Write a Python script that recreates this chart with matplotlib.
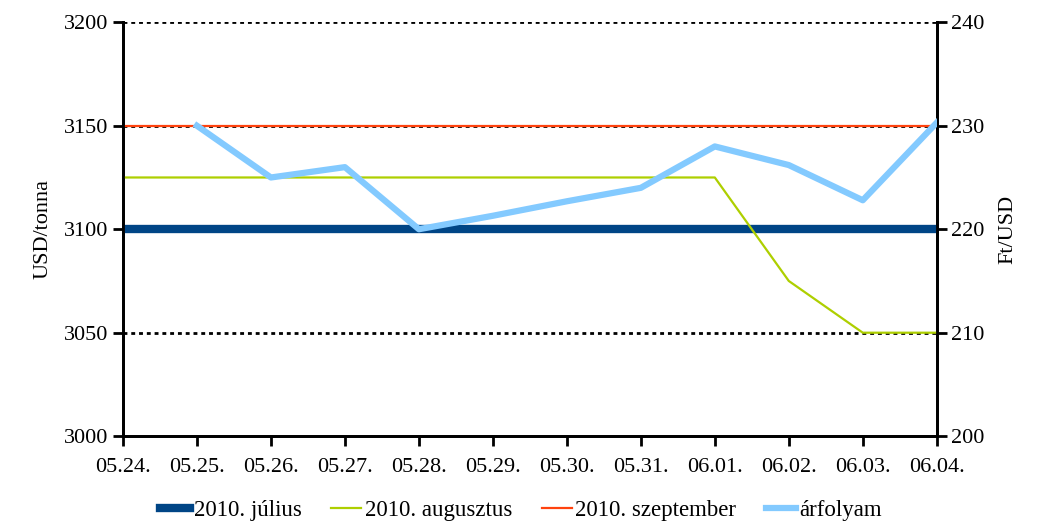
#!/usr/bin/env python3
import matplotlib
matplotlib.use("Agg")
import matplotlib.pyplot as plt

dates = ["05.24.", "05.25.", "05.26.", "05.27.", "05.28.", "05.29.",
         "05.30.", "05.31.", "06.01.", "06.02.", "06.03.", "06.04."]

julius = [3100] * 12
augusztus = [3125, 3125, 3125, 3125, 3125, 3125, 3125, 3125, 3125, 3075, 3050, 3050]
szeptember = [3150] * 12
# arfolyam starts at 05.25.
arfolyam = [None, 230.0, 225.0, 226.0, 220.0, 221.3, 222.7, 224.0, 228.0, 226.2, 222.8, 230.3]

plt.rcParams['font.family'] = ['Liberation Serif', 'DejaVu Serif']

fig = plt.figure(figsize=(10.42, 5.30), dpi=100)
ax = fig.add_axes([0.118, 0.177, 0.781, 0.781])
ax2 = ax.twinx()

x = list(range(len(dates)))
for y in [3050, 3100, 3150, 3200]:
    ax.axhline(y, color="black", ls=(0, (1.4, 1.4)), lw=2, zorder=0)

l1, = ax.plot(x, julius, color="#004586", lw=6, label="2010. július", zorder=3)
l2, = ax.plot(x, augusztus, color="#aecf00", lw=1.6, label="2010. augusztus", zorder=3)
l3, = ax.plot(x, szeptember, color="#ff420e", lw=1.6, label="2010. szeptember", zorder=3)
xa = [i for i, v in zip(x, arfolyam) if v is not None]
ya = [v for v in arfolyam if v is not None]
l4, = ax2.plot(xa, ya, color="#83caff", lw=4.5, label="árfolyam", zorder=3)

ax.set_xlim(0, 11)
ax.set_ylim(3000, 3200)
ax.set_yticks([3000, 3050, 3100, 3150, 3200])
ax2.set_ylim(200, 240)
ax2.set_yticks([200, 210, 220, 230, 240])
ax.set_xticks(x)
ax.set_xticklabels(dates)

for a in (ax, ax2):
    a.spines['top'].set_visible(False)
    for s in a.spines.values():
        s.set_linewidth(2)
    a.tick_params(width=2, length=7, labelsize=16, direction="out", colors="black")
ax.tick_params(axis="x", pad=9)

ax.set_ylabel("USD/tonna", fontsize=16, labelpad=8)
ax2.set_ylabel("Ft/USD", fontsize=16, labelpad=10)

fig.legend(handles=[l1, l2, l3, l4], loc="lower center", ncol=4, frameon=False,
           fontsize=16.5, handlelength=1.3, handletextpad=0.15, columnspacing=1.3,
           bbox_to_anchor=(0.5, -0.022))

fig.savefig("out.png", dpi=100)
